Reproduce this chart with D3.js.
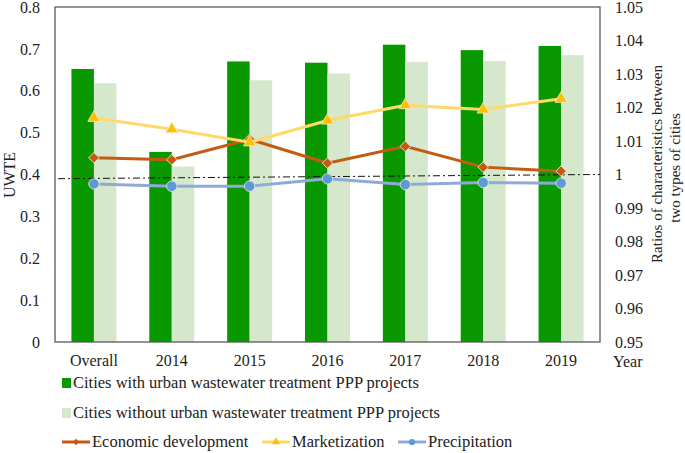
<!DOCTYPE html>
<html><head><meta charset="utf-8">
<script src="https://cdn.jsdelivr.net/npm/d3@7"></script>
<style>body{margin:0;background:#fff}svg{display:block}svg text{font-family:"Liberation Serif","Times New Roman",Times,serif;fill:#222}</style>
</head><body><svg id="c" width="685" height="453"></svg>
<script>
const categories = ["Overall","2014","2015","2016","2017","2018","2019"];
const withPPP = [0.652,0.454,0.670,0.667,0.710,0.697,0.707];
const withoutPPP = [0.618,0.419,0.625,0.641,0.669,0.671,0.685];
const economic = [1.0050,1.0044,1.0105,1.0034,1.0084,1.0022,1.0010];
const marketization = [1.0169,1.0135,1.0096,1.0161,1.0207,1.0194,1.0226];
const precipitation = [0.9972,0.9965,0.9965,0.9987,0.9970,0.9976,0.9974];
const leftTicks = [0,0.1,0.2,0.3,0.4,0.5,0.6,0.7,0.8];
const rightTicks = [0.95,0.96,0.97,0.98,0.99,1,1.01,1.02,1.03,1.04,1.05];
const refLine = [0.39, 1.0];

const svg = d3.select("#c");
const L=55,R=600,T=7,B=342;
const x = d3.scaleBand().domain(categories).range([L,R]).paddingInner(0).paddingOuter(0);
const xs = d3.scaleBand().domain([0,1]).range([0,x.bandwidth()]).paddingInner(0).paddingOuter(0.73);
const yL = d3.scaleLinear().domain([0,0.8]).range([B,T]);
const yR = d3.scaleLinear().domain([0.95,1.05]).range([B,T]);
const dark="#0a9800", light="#d5e8cc";

const g = svg.append("g");
categories.forEach((c,i)=>{
  g.append("rect").attr("x",x(c)+xs(0)).attr("width",xs.bandwidth()).attr("y",yL(withPPP[i])).attr("height",B-yL(withPPP[i])).attr("fill",dark);
  g.append("rect").attr("x",x(c)+xs(1)).attr("width",xs.bandwidth()).attr("y",yL(withoutPPP[i])).attr("height",B-yL(withoutPPP[i])).attr("fill",light);
});
svg.append("rect").attr("x",L).attr("y",T).attr("width",R-L).attr("height",B-T).attr("fill","none").attr("stroke","#595959").attr("stroke-width",1.3);

const axL = svg.append("g").attr("transform",`translate(${L},0)`).call(d3.axisLeft(yL).tickValues(leftTicks).tickSize(0).tickPadding(15).tickFormat(d=>String(+d.toFixed(1))));
const axR = svg.append("g").attr("transform",`translate(${R},0)`).call(d3.axisRight(yR).tickValues(rightTicks).tickSize(0).tickPadding(15).tickFormat(d=>String(+d.toFixed(2))));
const axB = svg.append("g").attr("transform",`translate(0,${B})`).call(d3.axisBottom(x).tickSize(0).tickPadding(13));
[axL,axR,axB].forEach(a=>{a.attr("font-family",null).attr("font-size",null);a.select(".domain").remove();a.selectAll("text").attr("font-size",16).attr("fill","#222");});

svg.append("line").attr("x1",L+3).attr("x2",R).attr("y1",yL(refLine[0])).attr("y2",yR(refLine[1]))
  .attr("stroke","#111").attr("stroke-width",1).attr("stroke-dasharray","7,3,2,3");

const cx = c=>x(c)+x.bandwidth()/2;
function series(vals,lineCol,markCol,shape,size,rot){
  svg.append("path").datum(vals).attr("fill","none").attr("stroke",lineCol).attr("stroke-width",3)
    .attr("d",d3.line().x((d,i)=>cx(categories[i])).y(d=>yR(d)));
  svg.selectAll(null).data(vals).enter().append("path")
    .attr("transform",(d,i)=>`translate(${cx(categories[i])},${yR(d)}) rotate(${rot})`)
    .attr("d",d3.symbol().type(shape).size(size)).attr("fill",markCol).attr("stroke","#f4e8df").attr("stroke-width",0.8);
}
series(economic,"#c55a11","#c55a11",d3.symbolSquare,55,45);
series(marketization,"#ffd966","#ffc000",d3.symbolTriangle,65,0);
series(precipitation,"#8eaadb","#5b9bd5",d3.symbolCircle,85,0);

svg.append("text").attr("transform","translate(15,175) rotate(-90)").attr("text-anchor","middle").attr("font-size",16).text("UWTE");
svg.append("text").attr("transform","translate(662,164) rotate(-90)").attr("text-anchor","middle").attr("font-size",15).text("Ratios of characteristics  between");
svg.append("text").attr("transform","translate(680,168) rotate(-90)").attr("text-anchor","middle").attr("font-size",15).text("two types of cities");
svg.append("text").attr("x",613).attr("y",367).attr("font-size",16).text("Year");

const lg = svg.append("g");
lg.append("rect").attr("x",62).attr("y",378).attr("width",9).attr("height",10).attr("fill",dark);
lg.append("text").attr("x",73).attr("y",388).attr("font-size",16.5).text("Cities with urban wastewater treatment PPP projects");
lg.append("rect").attr("x",62).attr("y",408).attr("width",9).attr("height",10).attr("fill",light);
lg.append("text").attr("x",73).attr("y",418).attr("font-size",16.5).text("Cities without urban wastewater treatment PPP projects");
const items=[["Economic development","#c55a11","#c55a11",d3.symbolSquare,62,20,45],["Marketization","#ffd966","#ffc000",d3.symbolTriangle,262,28,0],["Precipitation","#8eaadb","#5b9bd5",d3.symbolCircle,398,30,0]];
items.forEach(([t,lc,mc,sh,x0,sz,rot])=>{
  lg.append("line").attr("x1",x0).attr("x2",x0+28).attr("y1",442).attr("y2",442).attr("stroke",lc).attr("stroke-width",3);
  lg.append("path").attr("transform",`translate(${x0+14},442) rotate(${rot})`).attr("d",d3.symbol().type(sh).size(sz)).attr("fill",mc);
  lg.append("text").attr("x",x0+30).attr("y",447).attr("font-size",16.5).text(t);
});
</script></body></html>
